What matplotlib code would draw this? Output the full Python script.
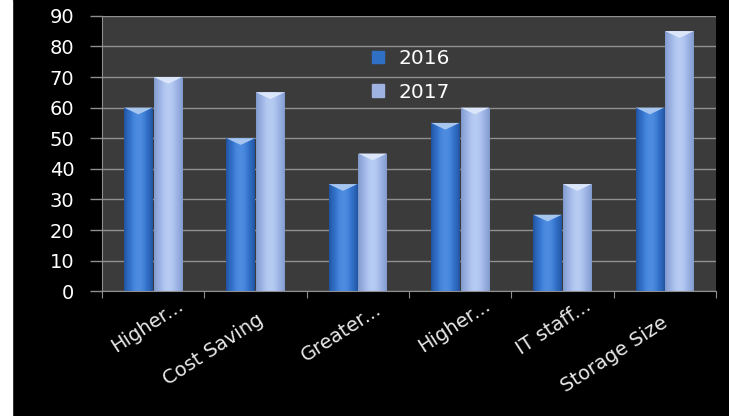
import numpy as np
import matplotlib.pyplot as plt
import matplotlib.transforms as mtransforms
from matplotlib.patches import Patch

categories = ['Higher...', 'Cost Saving', 'Greater...', 'Higher...', 'IT staff...', 'Storage Size']
values_2016 = [60, 50, 35, 55, 25, 60]
values_2017 = [70, 65, 45, 60, 35, 85]
y_ticks = [0, 10, 20, 30, 40, 50, 60, 70, 80, 90]

plt.rcParams['font.family'] = ['DejaVu Sans']

fig = plt.figure(figsize=(7.29, 4.16), dpi=100, facecolor='black')
# white strip on the left edge
fig.patches.append(plt.Rectangle((0, 0), 12 / 729, 1, transform=fig.transFigure,
                                 color='white', zorder=-1))
ax = fig.add_axes([0.140, 0.300, 0.842, 0.662])
ax.set_facecolor('#3b3b3b')

x = np.arange(len(categories)) + 0.5
w = 0.28
bars1 = ax.bar(x - w / 2 - 0.005, values_2016, w, color='#2f6fc4', zorder=2)
bars2 = ax.bar(x + w / 2 + 0.005, values_2017, w, color='#9fb3e3', zorder=2)


def shade(bars, dark, mid, light):
    # horizontal gradient inside each bar, plus a light cap on top
    grad = np.linspace(0, 1, 64)
    prof = np.sin(grad * np.pi) ** 0.8
    img = np.zeros((1, 64, 3))
    for i, p in enumerate(prof):
        if p < 0.7:
            c = dark + (mid - dark) * p / 0.7
        else:
            c = mid + (light - mid) * (p - 0.7) / 0.3
        img[0, i] = c
    for b in bars:
        x0, y0 = b.get_x(), b.get_y()
        bw, bh = b.get_width(), b.get_height()
        im = ax.imshow(img, extent=[x0, x0 + bw, y0, y0 + bh], aspect='auto',
                       zorder=2.5, interpolation='bilinear')
        im.set_clip_path(b)
        ax.fill([x0, x0 + bw, x0 + bw * 0.5], [y0 + bh, y0 + bh, y0 + bh - 2.2],
                color=light * 0.5 + 0.5, zorder=3, lw=0)


shade(bars1, np.array([0.13, 0.32, 0.62]), np.array([0.20, 0.45, 0.80]),
      np.array([0.30, 0.55, 0.88]))
shade(bars2, np.array([0.50, 0.60, 0.80]), np.array([0.62, 0.71, 0.90]),
      np.array([0.72, 0.80, 0.95]))

ax.set_xlim(0, len(categories))
ax.set_ylim(0, 90)
ax.set_yticks(y_ticks)
ax.yaxis.grid(True, color='#8f8f8f', lw=1.0, zorder=1)
ax.set_axisbelow(True)
ax.tick_params(axis='y', colors='white', labelsize=14, length=9, color='#8f8f8f', width=1,
               pad=11)
ax.set_xticks(np.arange(len(categories) + 1))
ax.set_xticklabels([])
ax.set_xticks(x, minor=True)
ang = 33
ax.set_xticklabels(categories, minor=True, rotation=ang, ha='right', rotation_mode='anchor',
                   color='#e8e8e8', fontsize=14)
ax.tick_params(axis='x', which='major', length=5, color='#8f8f8f')
ax.tick_params(axis='x', which='minor', length=0, pad=12)
for s in ['top', 'right']:
    ax.spines[s].set_visible(False)
ax.spines['left'].set_color('#8f8f8f')
ax.spines['bottom'].set_color('#8f8f8f')

# shorter labels sit further along their own direction, as in the original
fig.canvas.draw()
rend = fig.canvas.get_renderer()
for lab in ax.xaxis.get_minorticklabels():
    lab.set_rotation(0)
    L = lab.get_window_extent(rend).width
    lab.set_rotation(ang)
    sh = 105 - 0.8 * L
    dx = -10 + sh * np.cos(np.radians(ang))
    dy = -9 + sh * np.sin(np.radians(ang))
    lab.set_transform(lab.get_transform() +
                      mtransforms.ScaledTranslation(dx / 100, dy / 100, fig.dpi_scale_trans))

handles = [Patch(color='#2f6fc4'), Patch(color='#9fb3e3')]
leg = ax.legend(handles, ['2016', '2017'], loc='upper left', bbox_to_anchor=(0.41, 0.945),
                frameon=False, fontsize=14.5, labelcolor='white', handlelength=0.6,
                handleheight=0.6, handletextpad=0.7, labelspacing=0.72)

fig.savefig('out.png', dpi=100, facecolor='black')
